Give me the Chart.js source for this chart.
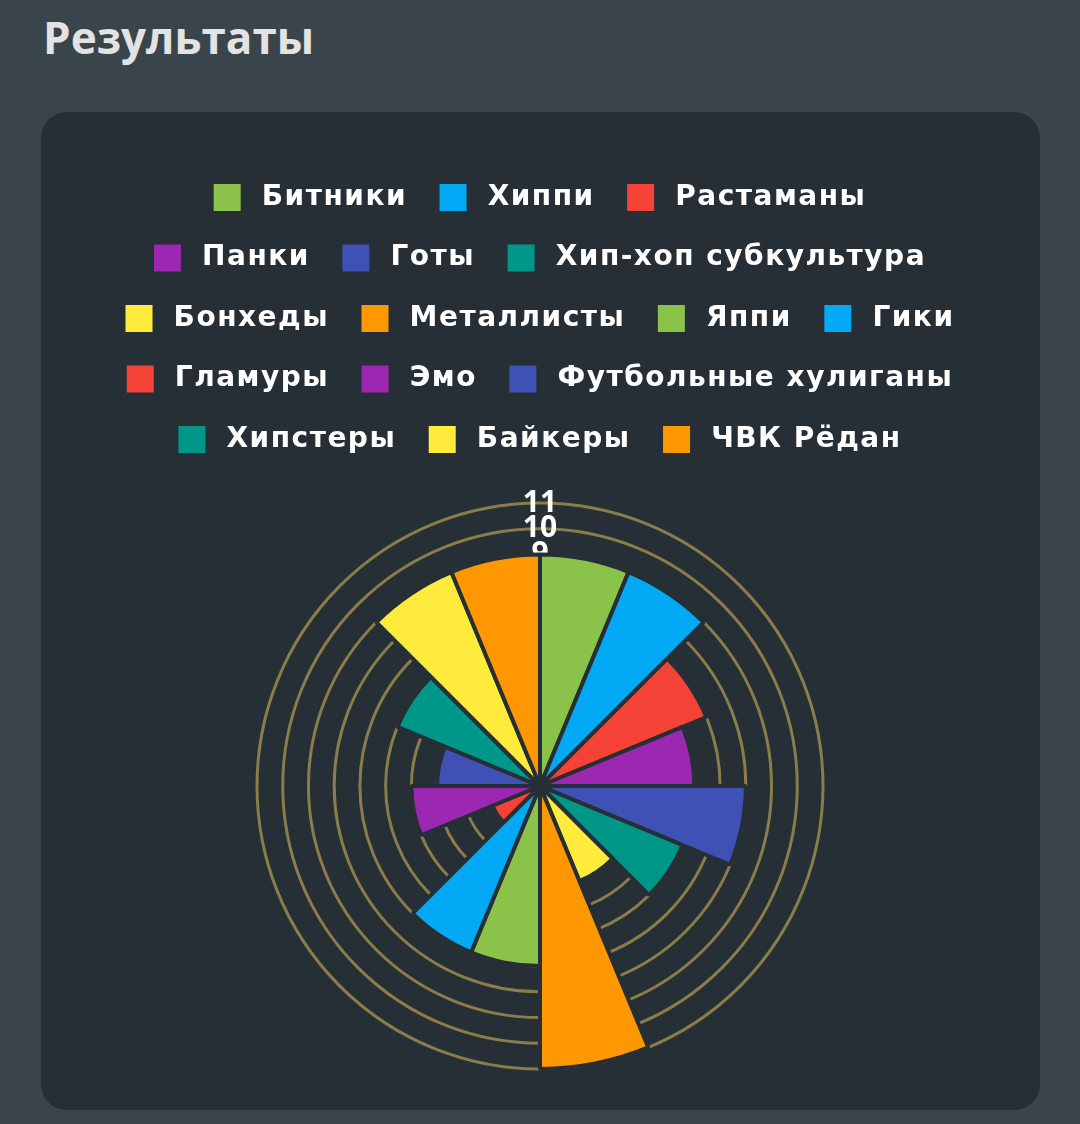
<!DOCTYPE html>
<html lang="ru">
<head>
  <meta charset="UTF-8">
  <meta name="viewport" content="width=device-width, initial-scale=1.0">
  <title>Результаты</title>
  <script src="https://cdn.jsdelivr.net/npm/chart.js@4"></script>
  <style>
    body { margin: 0; background: #3a444b; width: 1080px; height: 1124px; overflow: hidden; }
    h1 {
      position: absolute; left: 43px; top: 11px; margin: 0;
      font: 700 44px "Open Sans", sans-serif; line-height: 52px; color: #e3e3e3;
    }
    .card {
      position: absolute; left: 41px; top: 112px; width: 999px; height: 998px;
      background: #262f35; border-radius: 26px;
    }
    .wrap { position: absolute; left: 51px; top: 39px; width: 896px; height: 936px; }
  </style>
</head>
<body>

<h1>Результаты</h1>

<div class="card">
  <div class="wrap">
    <canvas id="polarChart"></canvas>
  </div>
</div>

<script>
  const labels = [
    'Битники', 'Хиппи', 'Растаманы', 'Панки', 'Готы', 'Хип-хоп субкультура',
    'Бонхеды', 'Металлисты', 'Яппи', 'Гики', 'Гламуры', 'Эмо',
    'Футбольные хулиганы', 'Хипстеры', 'Байкеры', 'ЧВК Рёдан'
  ];
  const votes = [9, 9, 7, 6, 8, 6, 4, 11, 7, 7, 2, 5, 4, 6, 9, 9];
  const palette = ['#8bc34a', '#03a9f4', '#f44336', '#9c27b0', '#3f51b5', '#009688', '#ffeb3b', '#ff9800'];

  const baseLabels = Chart.PolarAreaController.overrides.plugins.legend.labels.generateLabels;

  // slightly wider legend text + extra gap under the legend
  const legendTweaks = {
    id: 'legendTweaks',
    afterInit(chart) {
      const legend = chart.legend;
      const fit = legend.fit;
      const draw = legend.draw;
      legend.fit = function () {
        this.ctx.letterSpacing = '1.5px';
        fit.call(this);
        this.ctx.letterSpacing = '0px';
        this.height += 22;
      };
      legend.draw = function () {
        this.ctx.letterSpacing = '1.5px';
        draw.call(this);
        this.ctx.letterSpacing = '0px';
      };
    }
  };

  const ctx = document.getElementById('polarChart').getContext('2d');
  new Chart(ctx, {
    type: 'polarArea',
    data: {
      labels: labels,
      datasets: [{
        data: votes,
        backgroundColor: labels.map((_, i) => palette[i % palette.length]),
        borderColor: '#262f35',
        borderWidth: 4
      }]
    },
    plugins: [legendTweaks],
    options: {
      responsive: true,
      maintainAspectRatio: false,
      animation: false,
      plugins: {
        legend: {
          position: 'top',
          labels: {
            color: '#ffffff',
            boxWidth: 27,
            boxHeight: 27,
            padding: 32.5,
            font: { family: '"DejaVu Sans", sans-serif', size: 28, weight: 'bold' },
            generateLabels: function (chart) {
              return baseLabels(chart).map(item => {
                item.text = '\u2009' + item.text;
                item.lineWidth = 0;
                return item;
              });
            }
          }
        },
        tooltip: { enabled: false }
      },
      scales: {
        r: {
          beginAtZero: true,
          ticks: {
            stepSize: 1,
            color: '#ffffff',
            showLabelBackdrop: false,
            font: { family: '"Open Sans", sans-serif', size: 30, weight: 'bold' }
          },
          grid: { color: '#8b7d4a', lineWidth: 3 }
        }
      }
    }
  });
</script>

</body>
</html>
